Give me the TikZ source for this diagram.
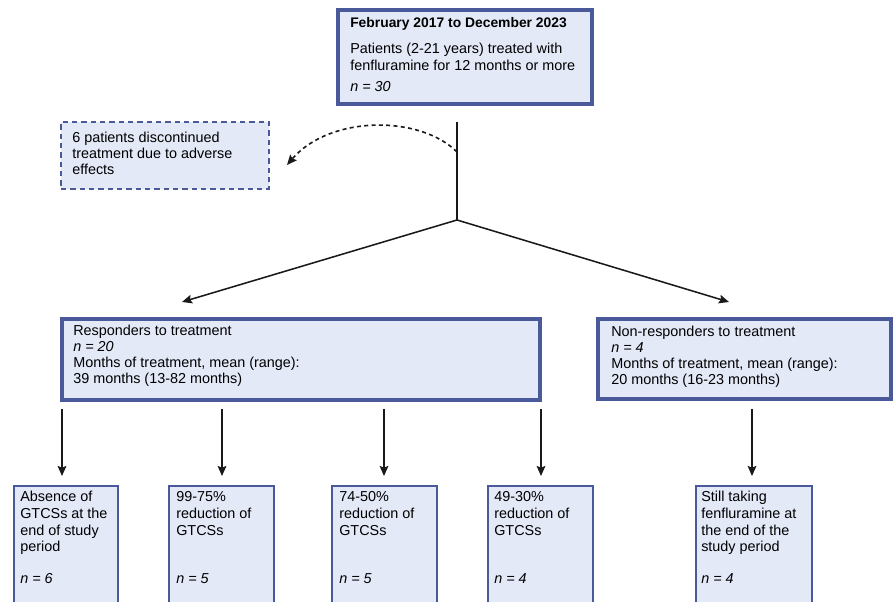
\documentclass[tikz,border=0pt]{standalone}
\usepackage{fontspec}
\setmainfont{Liberation Sans}
\usetikzlibrary{fit,arrows.meta}
\definecolor{boxborder}{RGB}{74,89,154}
\definecolor{boxfill}{RGB}{228,233,248}
\newcommand{\txt}[3]{\parbox[t]{#1}{\raggedright\fontsize{10.8}{#2}\selectfont #3}}
\tikzset{
  box/.style={draw=boxborder, fill=boxfill, line width=2.3pt, inner sep=0pt},
  smallbox/.style={draw=boxborder, fill=boxfill, line width=1.5pt, inner sep=0pt},
  dashbox/.style={draw=boxborder, fill=boxfill, line width=1.2pt, dash pattern=on 4pt off 3pt, inner sep=0pt},
  lbl/.style={anchor=base west, inner sep=0pt, text=black},
  arr/.style={draw=black!90, line width=1.15pt, -{Stealth[length=7.5pt,width=6.5pt,inset=1.2pt]}},
  ln/.style={draw=black!90, line width=1.15pt}
}
\begin{document}
\begin{tikzpicture}[x=0.75pt,y=-0.75pt]
\useasboundingbox (0,0) rectangle (894,602);
\clip (0,0) rectangle (894,602);

% top box
\node[box, line width=2.6pt, fit={(338,10)(592,104)}] (top) {};
\node[lbl] (toptitle) at (350,28) {\txt{300pt}{12.75}{\fontsize{10.4}{12.75}\selectfont\textbf{February 2017 to December 2023}}};
\node[lbl] (topbody) at (350,54) {\txt{300pt}{12.75}{Patients (2-21 years) treated with\\fenfluramine for 12 months or more\\[2.6pt]\textit{n = 30}}};

% discontinued box
\node[dashbox, fit={(61,122)(269,189)}] (disc) {};
\node[lbl] (disctext) at (72,143) {\txt{300pt}{12}{6 patients discontinued\\treatment due to adverse\\effects}};

% responders
\node[box, fit={(62,319)(540,400)}] (resp) {};
\node[lbl] (resptext) at (73,336) {\txt{400pt}{12}{Responders to treatment\\\textit{n = 20}\\Months of treatment, mean (range):\\39 months (13-82 months)}};

% non-responders
\node[box, fit={(598,319)(891,399)}] (nonresp) {};
\node[lbl] (nonresptext) at (611,337) {\txt{300pt}{12}{Non-responders to treatment\\\textit{n = 4}\\Months of treatment, mean (range):\\20 months (16-23 months)}};

% bottom boxes
\node[smallbox, fit={(14,486)(118,612)}] (b1) {};
\node[lbl] (b1t) at (20,502) {\txt{200pt}{12.5}{Absence of\\GTCSs at the\\end of study\\period\\[11.5pt]\textit{n = 6}}};
\node[smallbox, fit={(169,486)(274,612)}] (b2) {};
\node[lbl] (b2t) at (176,502) {\txt{200pt}{12.5}{99-75\%\\reduction of\\GTCSs\\[23.5pt]\textit{n = 5}}};
\node[smallbox, fit={(332,486)(437,612)}] (b3) {};
\node[lbl] (b3t) at (339,502) {\txt{200pt}{12.5}{74-50\%\\reduction of\\GTCSs\\[23.5pt]\textit{n = 5}}};
\node[smallbox, fit={(488,486)(593,612)}] (b4) {};
\node[lbl] (b4t) at (494,502) {\txt{200pt}{12.5}{49-30\%\\reduction of\\GTCSs\\[23.5pt]\textit{n = 4}}};
\node[smallbox, fit={(696,486)(812,612)}] (b5) {};
\node[lbl] (b5t) at (701,502) {\txt{200pt}{12.5}{Still taking\\fenfluramine at\\the end of the\\study period\\[11.5pt]\textit{n = 4}}};

% connectors
\coordinate (vs) at (457,122);
\coordinate (j) at (457,220);
\coordinate (cs) at (457,152);
\coordinate (ce) at (287,165);
\coordinate (lt) at (182,302);
\coordinate (rt) at (729,302);
\draw[ln] (vs) -- (j);
\draw[arr] (j) -- (lt);
\draw[arr] (j) -- (rt);
\draw[arr, line width=1.2pt, dash pattern=on 3pt off 2.5pt] (cs) .. controls (420,115) and (330,115) .. (ce);

\foreach \n/\x in {1/62,2/222,3/384,4/541,5/752}{
  \coordinate (s\n) at (\x,409);
  \coordinate (e\n) at (\x,476);
  \draw[arr] (s\n) -- (e\n);
}
\end{tikzpicture}
\end{document}
